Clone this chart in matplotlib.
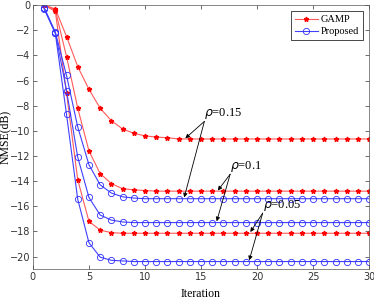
import numpy as np
import matplotlib.pyplot as plt

# iterations
it = np.arange(1, 31)

# NMSE (dB): first iterations, then a flat tail
gamp_015_head = [0.0, -0.3, -2.5, -4.9, -6.7, -8.2, -9.2, -9.85, -10.2, -10.4, -10.5, -10.55]
gamp_010_head = [0.0, -0.4, -4.1, -8.2, -11.6, -13.4, -14.2, -14.6, -14.7, -14.75]
gamp_005_head = [0.0, -0.5, -7.0, -13.9, -17.2, -17.9, -18.1]
prop_015_head = [-0.2, -2.15, -5.6, -9.7, -12.7, -14.3, -14.95, -15.25, -15.35]
prop_010_head = [-0.25, -2.2, -6.8, -12.1, -15.3, -16.7, -17.1, -17.25]
prop_005_head = [-0.3, -2.25, -8.7, -15.45, -18.9, -20.05, -20.3, -20.35]

gamp_tail = [-10.65, -14.8, -18.15]
prop_tail = [-15.4, -17.3, -20.4]


def pad(head, tail):
    return head + [tail] * (len(it) - len(head))


gamp = [pad(gamp_015_head, gamp_tail[0]),
        pad(gamp_010_head, gamp_tail[1]),
        pad(gamp_005_head, gamp_tail[2])]
prop = [pad(prop_015_head, prop_tail[0]),
        pad(prop_010_head, prop_tail[1]),
        pad(prop_005_head, prop_tail[2])]

rho_labels = ['0.15', '0.1', '0.05']
# text position (x, y) and arrow tips per rho
text_pos = [(15.3, -9.25), (17.6, -13.45), (20.5, -16.55)]
tips = [[(13.6, -10.6), (13.5, -15.3)],
        [(16.5, -14.75), (16.4, -17.2)],
        [(19.4, -18.05), (19.3, -20.3)]]

serif = ['Liberation Serif', 'DejaVu Serif']

fig = plt.figure(figsize=(3.74, 2.99), dpi=100)
ax = fig.add_axes([0.088, 0.1, 0.899, 0.883])

for i in range(3):
    ax.plot(it, gamp[i], color='#ff5a5a', lw=0.8, marker='*', ms=3.5,
            mfc='red', mec='red', label='GAMP' if i == 0 else None)
for i in range(3):
    ax.plot(it, prop[i], color='#4040ff', lw=0.8, marker='o', ms=4.5,
            mfc='none', mec='#3030ff', mew=0.6,
            label='Proposed' if i == 0 else None)

for lab, (tx, ty), tp in zip(rho_labels, text_pos, tips):
    ax.text(tx, ty, r'$\rho$=' + lab, fontsize=9, family=serif,
            ha='left', va='bottom')
    for (px, py) in tp:
        ax.annotate('', xy=(px, py), xytext=(tx, ty),
                    arrowprops=dict(arrowstyle='-|>', color='black', lw=0.6,
                                    mutation_scale=6, shrinkA=0, shrinkB=0))

ax.set_xlim(0, 30)
ax.set_ylim(-21, 0)
ax.set_xticks(np.arange(0, 31, 5))
ax.set_yticks(np.arange(-20, 1, 2))
ax.tick_params(direction='in', top=True, right=True, labelsize=7,
               length=3, width=0.5, pad=2, colors='#333333')
for s in ax.spines.values():
    s.set_linewidth(0.5)
    s.set_color('#555555')

ax.set_xlabel('Iteration', family=serif, fontsize=8.5)
ax.set_ylabel('NMSE(dB)', family=serif, fontsize=8.5)
ax.xaxis.set_label_coords(0.5, -0.07)
ax.yaxis.set_label_coords(-0.064, 0.5)

leg = ax.legend(loc='upper right', prop={'family': serif, 'size': 7.5},
                fancybox=False, framealpha=1, edgecolor='black',
                borderpad=0.35, handlelength=2.2, handletextpad=0.3,
                labelspacing=0.25, borderaxespad=0.6)
leg.get_frame().set_linewidth(0.5)

fig.savefig('out.png', dpi=100)
